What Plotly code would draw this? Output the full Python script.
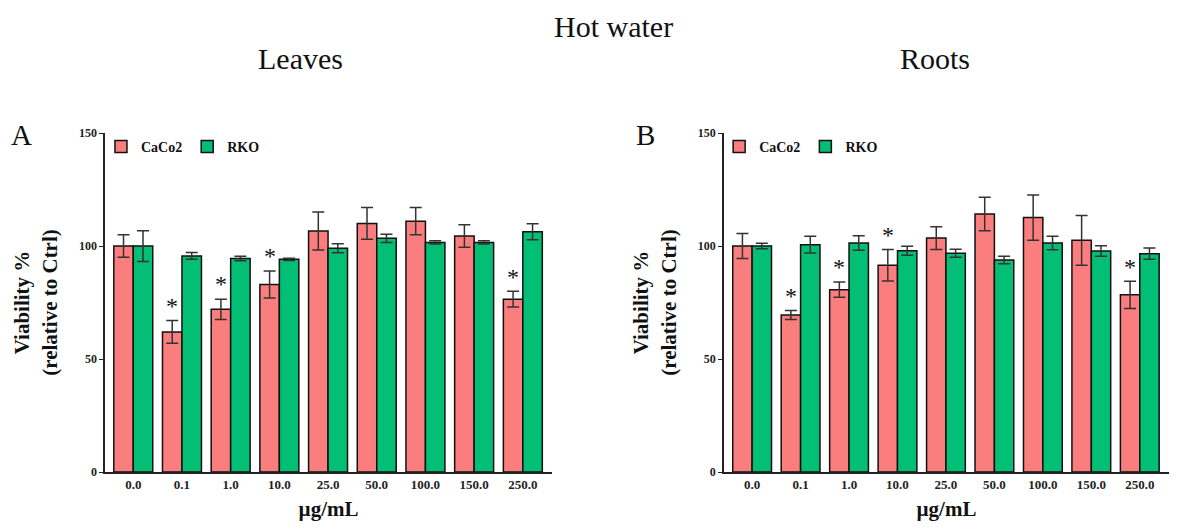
import plotly.graph_objects as go

categories = ["0.0", "0.1", "1.0", "10.0", "25.0", "50.0", "100.0", "150.0", "250.0"]

# Panel A - Leaves
leaves_caco2 = [100, 62, 72, 83, 106.6, 110, 111, 104.4, 76.5]
leaves_caco2_err = [5, 5, 4.5, 6, 8.4, 7, 6, 5, 3.5]
leaves_rko = [100, 95.6, 94.5, 94.1, 99, 103.4, 101.6, 101.6, 106.3]
leaves_rko_err = [6.8, 1.5, 1, 0.5, 2, 1.8, 0.7, 0.7, 3.5]
leaves_sig = [False, True, True, True, False, False, False, False, True]

# Panel B - Roots
roots_caco2 = [100, 69.5, 80.7, 91.5, 103.5, 114.2, 112.6, 102.5, 78.4]
roots_caco2_err = [5.5, 2, 3.4, 7, 5, 7.4, 10, 11, 6]
roots_rko = [100, 100.6, 101.3, 97.9, 96.8, 93.8, 101.3, 97.8, 96.6]
roots_rko_err = [1.2, 3.7, 3.2, 2, 1.8, 1.7, 3, 2.3, 2.5]
roots_sig = [False, True, True, True, False, False, False, False, True]

y_ticks = [0, 50, 100, 150]

PINK = "#FA7E7E"
GREEN = "#03BE75"
SERIF = "Liberation Serif"

fig = go.Figure()


def add_bars(xa, ya, caco, caco_err, rko, rko_err, legend):
    for name, vals, errs, col in [("CaCo2", caco, caco_err, PINK), ("RKO", rko, rko_err, GREEN)]:
        fig.add_trace(go.Bar(
            x=categories, y=vals, name=name, xaxis=xa, yaxis=ya,
            marker=dict(color=col, line=dict(color="#111111", width=1.5)),
            error_y=dict(type="data", array=errs, visible=True, color="#333333",
                         thickness=1.5, width=6),
            legend=legend, offsetgroup=name,
        ))


add_bars("x", "y", leaves_caco2, leaves_caco2_err, leaves_rko, leaves_rko_err, "legend")
add_bars("x2", "y2", roots_caco2, roots_caco2_err, roots_rko, roots_rko_err, "legend2")

annotations = []
for xref, yref, vals, errs, sig in [("x", "y", leaves_caco2, leaves_caco2_err, leaves_sig),
                                     ("x2", "y2", roots_caco2, roots_caco2_err, roots_sig)]:
    for i, (v, e, s) in enumerate(zip(vals, errs, sig)):
        if s:
            annotations.append(dict(x=i - 0.2, y=v + e + 6.5, xref=xref, yref=yref, text="*",
                                    showarrow=False, yanchor="middle",
                                    font=dict(family=SERIF, size=24, color="#111111")))

annotations.append(dict(x=0.5215, y=1.0, xref="paper", yref="paper", text="Hot water",
                        showarrow=False, xanchor="center", yanchor="top",
                        font=dict(family=SERIF, size=30, color="#111111")))
for text, x, y, size in [("Leaves", 0.2513, 0.9025, 30),
                         ("Roots", 0.7978, 0.9025, 30), ("A", 0.012, 0.7524, 29), ("B", 0.5482, 0.7524, 29)]:
    annotations.append(dict(x=x, y=y, xref="paper", yref="paper", text=text, showarrow=False,
                            xanchor="center", yanchor="middle",
                            font=dict(family=SERIF, size=size, color="#111111")))

tickfont = dict(family=SERIF, size=13, color="#222222", weight="bold")
ytickfont = dict(family=SERIF, size=12, color="#222222", weight="bold")
titlefont = dict(family=SERIF, size=21, color="#111111", weight="bold")

xa_common = dict(type="category", showline=True, linecolor="#222222", linewidth=1.5,
                 ticks="", tickfont=tickfont, range=[-0.58, 8.6], showgrid=False,
                 automargin=False,
                 title=dict(text="µg/mL", font=titlefont, standoff=15))
ya_common = dict(range=[0, 150], tickvals=y_ticks, showline=True, linecolor="#222222",
                 linewidth=1.5, ticks="outside", ticklen=4, tickcolor="#222222",
                 tickfont=ytickfont, showgrid=False, zeroline=False, automargin=False,
                 domain=[0.0955, 0.7563],
                 title=dict(text="Viability %<br>(relative to Ctrl)", font=titlefont, standoff=16))

legend_common = dict(orientation="h", yanchor="middle", bgcolor="rgba(0,0,0,0)",
                     font=dict(family=SERIF, size=14, color="#111111", weight="bold"),
                     itemwidth=30, traceorder="normal")

fig.update_layout(
    width=1162, height=513,
    margin=dict(l=0, r=0, t=0, b=0),
    paper_bgcolor="white", plot_bgcolor="white",
    barmode="group", bargap=0.2, bargroupgap=0,
    xaxis=dict(domain=[0.0835, 0.4682], anchor="y", **xa_common),
    xaxis2=dict(domain=[0.6162, 0.999], anchor="y2", **xa_common),
    yaxis=dict(anchor="x", **ya_common),
    yaxis2=dict(anchor="x2", **ya_common),
    legend=dict(x=0.080, y=0.729, **legend_common),
    legend2=dict(x=0.612, y=0.729, **legend_common),
    annotations=annotations,
    showlegend=True,
)

fig.write_html("out.html")
